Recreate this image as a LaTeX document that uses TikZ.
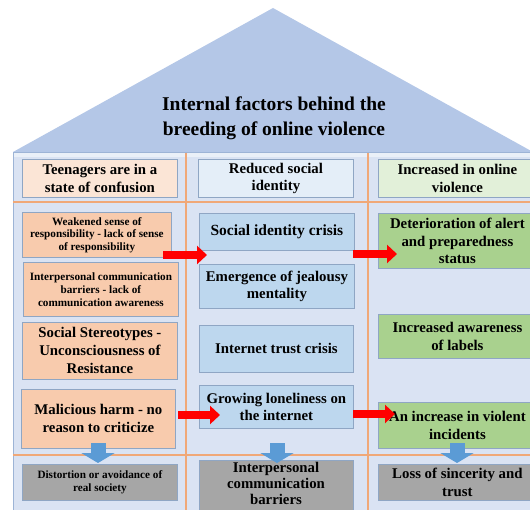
\documentclass[tikz,border=0pt]{standalone}
\usepackage{fontspec}
\setmainfont{Liberation Serif}
\usetikzlibrary{arrows.meta}
\definecolor{roofc}{HTML}{B4C7E7}
\definecolor{bodyc}{HTML}{DAE3F3}
\definecolor{bandc}{HTML}{EAF0F8}
\definecolor{bodyedge}{HTML}{9DB4D6}
\definecolor{orangel}{HTML}{F0A878}
\definecolor{edgec}{HTML}{8FA6C4}
\definecolor{hpeach}{HTML}{FBE5D6}
\definecolor{hblue}{HTML}{E4EEF8}
\definecolor{hgreen}{HTML}{E2F0D9}
\definecolor{peach}{HTML}{F8CBAD}
\definecolor{bluebx}{HTML}{BDD7EE}
\definecolor{greenbx}{HTML}{A9D18E}
\definecolor{graybx}{HTML}{A6A6A6}
\definecolor{bluearr}{HTML}{5B9BD5}
\newcommand\mkbox[7]{%
  \node[#6, anchor=north west, minimum width={(#4-#2)*1pt}, minimum height={(#5-#3)*1pt}] (#1) at (#2,#3) {#7};}
\begin{document}
\begin{tikzpicture}[x=1pt,y=-1pt,
  bx/.style={draw=edgec, line width=0.8pt, inner sep=0pt, align=center, text=black},
  med/.style={font=\bfseries\fontsize{14.8}{17.5}\selectfont},
  small/.style={font=\bfseries\fontsize{11.2}{12.5}\selectfont},
  redarrow/.style={draw=red, line width=8.5pt, -{Triangle[length=10pt,width=18pt]}},
  bluedown/.style={draw=bluearr, line width=15pt, -{Triangle[length=10pt,width=33pt]}},
  divider/.style={draw=orangel, line width=1.5pt}]
\useasboundingbox (0,0) rectangle (530,510);
\clip (0,0) rectangle (530,510);
% body
\fill[bodyc] (13,152) rectangle (540,515);
\draw[bodyedge, line width=0.8pt] (13,515) -- (13,152) -- (540,152);
\fill[bandc] (14,153) rectangle (540,157);
% roof
\fill[roofc] (13,152) -- (273,8) -- (533,152) -- cycle;
\node[font=\bfseries\fontsize{19.5}{25}\selectfont, align=center] (title) at (274,118) {Internal factors behind the\\breeding of online violence};
% dividers
\draw[divider] (186,153) -- (186,515);
\draw[divider] (368,153) -- (368,515);
\draw[divider] (13,202) -- (540,202);
\draw[divider] (13,455) -- (540,455);
% headers
\mkbox{hl}{22}{159}{177}{197}{bx, med, fill=hpeach}{Teenagers are in a\\state of confusion}
\mkbox{hm}{198}{159}{353}{197}{bx, med, fill=hblue}{Reduced social\\identity}
\mkbox{hr}{378}{159}{536}{197}{bx, med, fill=hgreen}{Increased in online\\violence}
% left column
\mkbox{l1}{22}{212}{171}{257}{bx, small, fill=peach}{Weakened sense of\\responsibility - lack of sense\\of responsibility}
\mkbox{l2}{23}{262}{178}{316}{bx, small, font=\bfseries\fontsize{11.2}{13}\selectfont, fill=peach}{Interpersonal communication\\barriers - lack of\\communication awareness}
\mkbox{l3}{22}{322}{177}{379}{bx, font=\bfseries\fontsize{14.8}{18}\selectfont, fill=peach}{Social Stereotypes -\\Unconsciousness of\\Resistance}
\mkbox{l4}{21}{389}{175}{448}{bx, font=\bfseries\fontsize{14.8}{18}\selectfont, fill=peach}{Malicious harm - no\\reason to criticize}
\mkbox{lg}{22}{464}{177}{500}{bx, small, fill=graybx}{Distortion or avoidance of\\real society}
% middle column
\mkbox{m1}{199}{213}{354}{250}{bx, med, font=\bfseries\fontsize{15.5}{17.5}\selectfont, fill=bluebx}{Social identity crisis}
\mkbox{m2}{199}{264}{354}{308}{bx, med, fill=bluebx}{Emergence of jealousy\\mentality}
\mkbox{m3}{199}{325}{353}{372}{bx, med, fill=bluebx}{Internet trust crisis}
\mkbox{m4}{199}{385}{353}{428}{bx, med, fill=bluebx}{Growing loneliness on\\the internet}
\mkbox{mg}{199}{460}{353}{515}{bx, fill=graybx}{}
\node[med, align=center, font=\bfseries\fontsize{14.8}{16}\selectfont] (mgt) at (276,483) {Interpersonal\\communication\\barriers};
% right column
\mkbox{r1}{378}{213}{536}{268}{bx, med, fill=greenbx}{Deterioration of alert\\and preparedness\\status}
\mkbox{r2}{378}{314}{536}{358}{bx, med, fill=greenbx}{Increased awareness\\of labels}
\mkbox{r3}{378}{402}{536}{448}{bx, med, fill=greenbx}{An increase in violent\\incidents}
\mkbox{rg}{378}{464}{536}{500}{bx, med, fill=graybx}{Loss of sincerity and\\trust}
% arrow end points
\coordinate (ra1s) at (163,255); \coordinate (ra1e) at (207,255);
\coordinate (ra2s) at (353,254); \coordinate (ra2e) at (397,254);
\coordinate (ra3s) at (178,415); \coordinate (ra3e) at (220,415);
\coordinate (ra4s) at (353,414); \coordinate (ra4e) at (395,414);
\coordinate (ba1s) at (98,443);  \coordinate (ba1e) at (98,463);
\coordinate (ba2s) at (277,443); \coordinate (ba2e) at (277,463);
\coordinate (ba3s) at (457,443); \coordinate (ba3e) at (457,463);
% red arrows
\draw[redarrow] (ra1s) -- (ra1e);
\draw[redarrow] (ra2s) -- (ra2e);
\draw[redarrow] (ra3s) -- (ra3e);
\draw[redarrow] (ra4s) -- (ra4e);
% blue arrows
\draw[bluedown] (ba1s) -- (ba1e);
\draw[bluedown] (ba2s) -- (ba2e);
\draw[bluedown] (ba3s) -- (ba3e);
\end{tikzpicture}
\end{document}
